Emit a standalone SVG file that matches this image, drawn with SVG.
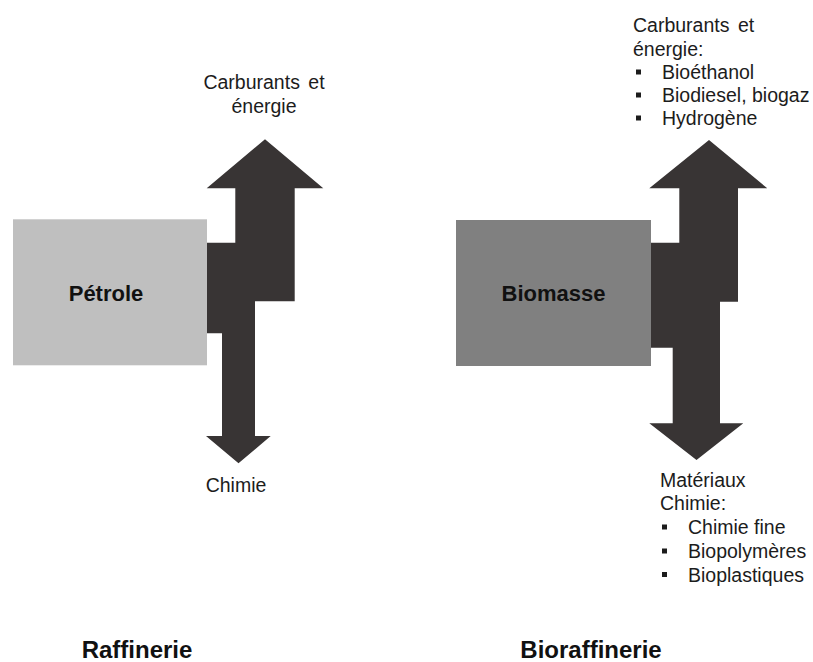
<svg xmlns="http://www.w3.org/2000/svg" width="813" height="662" viewBox="0 0 813 662">
  <style>
    .t { font-family: "Liberation Sans", Arial, sans-serif; font-size: 19.5px; fill: #1c1c1c; }
    .b { font-family: "Liberation Sans", Arial, sans-serif; font-weight: bold; fill: #111; }
    .arrow { fill: #383434; }
    .bul { fill: #1c1c1c; }
  </style>
  <rect x="0" y="0" width="813" height="662" fill="#ffffff"/>

  <g id="connectors">
    <polygon id="flow-left" class="arrow" points="265,139.3 323.3,188.3 294.7,188.3 294.7,301.3 255,301.3 255,436 270.7,436 238.5,463.3 206,436 222,436 222,333.3 207,333.3 207,242.7 235.3,242.7 235.3,188.3 206.7,188.3"/>
    <polygon id="flow-right" class="arrow" points="709,140 767.3,188.3 738,188.3 738,301.7 720,301.7 720,423.3 743.3,423.3 696.5,460 649.3,423.3 672.7,423.3 672.7,347.7 651,347.7 651,242.7 679.3,242.7 679.3,188.3 649.3,188.3"/>
  </g>

  <g id="petrole">
    <rect x="13" y="219.3" width="194" height="146" fill="#bfbfbf"/>
    <text class="b" x="106" y="300.5" font-size="22" text-anchor="middle">Pétrole</text>
  </g>

  <g id="biomasse">
    <rect x="456" y="220" width="195" height="146" fill="#808080"/>
    <text class="b" x="553.5" y="301" font-size="22" text-anchor="middle">Biomasse</text>
  </g>

  <g id="left-carburants">
    <text class="t" x="264" y="89" text-anchor="middle" word-spacing="3">Carburants et</text>
    <text class="t" x="264" y="112.5" text-anchor="middle">énergie</text>
  </g>

  <g id="left-chimie">
    <text class="t" x="236" y="491.5" text-anchor="middle">Chimie</text>
  </g>

  <g id="right-carburants">
    <text class="t" x="633" y="32" word-spacing="3">Carburants et</text>
    <text class="t" x="633" y="55.5">énergie:</text>
    <rect class="bul" x="636" y="69.5" width="5" height="5"/>
    <text class="t" x="662" y="79">Bioéthanol</text>
    <rect class="bul" x="636" y="92.5" width="5" height="5"/>
    <text class="t" x="662" y="102">Biodiesel, biogaz</text>
    <rect class="bul" x="636" y="115.5" width="5" height="5"/>
    <text class="t" x="662" y="125">Hydrogène</text>
  </g>

  <g id="right-materiaux">
    <text class="t" x="660" y="486.5">Matériaux</text>
    <text class="t" x="660" y="510">Chimie:</text>
    <rect class="bul" x="662" y="524.5" width="5" height="5"/>
    <text class="t" x="688" y="534">Chimie fine</text>
    <rect class="bul" x="662" y="548.5" width="5" height="5"/>
    <text class="t" x="688" y="558">Biopolymères</text>
    <rect class="bul" x="662" y="572" width="5" height="5"/>
    <text class="t" x="688" y="581.5">Bioplastiques</text>
  </g>

  <g id="titles">
    <text class="b" x="137" y="658" font-size="24" text-anchor="middle">Raffinerie</text>
    <text class="b" x="591" y="658" font-size="24" text-anchor="middle">Bioraffinerie</text>
  </g>
</svg>
